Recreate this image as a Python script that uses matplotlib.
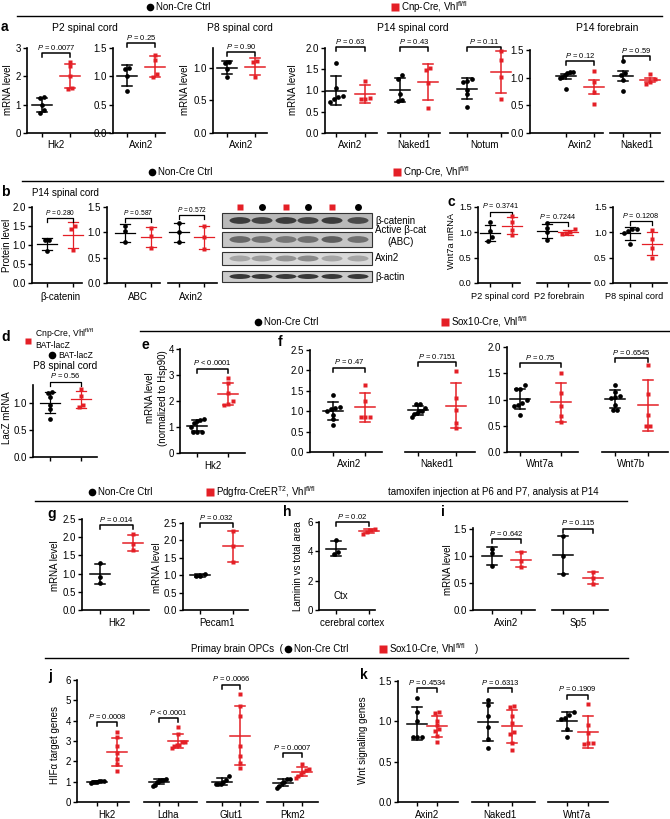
import numpy as np
import matplotlib
matplotlib.use('Agg')
import matplotlib.pyplot as plt
from matplotlib.patches import Rectangle, Ellipse

plt.rcParams['font.family'] = ['Liberation Sans', 'DejaVu Sans']
plt.rcParams['mathtext.fontset'] = 'custom'
plt.rcParams['mathtext.rm'] = 'Liberation Sans'
plt.rcParams['mathtext.it'] = 'Liberation Sans:italic'
plt.rcParams['font.size'] = 7

W, H = 670, 819
RED = '#e41f26'

# ---------------- data ----------------
# a: Non-Cre Ctrl vs Cnp-Cre, Vhl fl/fl
a_p2_genes = ['Hk2', 'Axin2']
a_p2_ctrl = [[1.28, 1.22, 1.0, 0.8, 0.72], [1.15, 1.13, 1.0, 0.75]]
a_p2_mut = [[2.5, 2.35, 2.0, 1.6, 1.55], [1.37, 1.28, 1.05, 0.98]]
a_p2_p = ['= 0.0077', '= 0.25']

a_p8_ctrl = [1.07, 1.09, 0.98, 0.86]
a_p8_mut = [1.1, 1.09, 0.86]
a_p8_p = '= 0.90'

a_p14sc_genes = ['Axin2', 'Naked1', 'Notum']
a_p14sc_ctrl = [[1.65, 1.05, 0.88, 0.85, 0.8, 0.72], [1.36, 1.27, 0.92, 0.77, 0.76],
                [1.27, 1.23, 1.21, 1.01, 0.91, 0.62]]
a_p14sc_mut = [[1.23, 0.82, 0.8, 0.8], [1.52, 1.48, 1.17, 0.6], [1.92, 1.72, 1.31, 0.8]]
a_p14sc_p = ['= 0.63', '= 0.43', '= 0.11']

a_p14fb_genes = ['Axin2', 'Naked1']
a_p14fb_ctrl = [[1.1, 1.1, 1.09, 1.05, 1.02, 0.99, 0.8], [1.3, 1.09, 1.05, 0.96, 0.76]]
a_p14fb_mut = [[1.12, 0.92, 0.74, 0.53], [1.06, 0.97, 0.93, 0.88]]
a_p14fb_p = ['= 0.12', '= 0.59']

# b: protein level, P14 spinal cord
b_genes = ['β-catenin', 'ABC', 'Axin2']
b_ctrl = [[1.12, 1.12, 0.84], [1.13, 1.03, 0.8], [1.19, 1.0, 0.81]]
b_mut = [[1.5, 1.42, 0.88], [1.08, 0.93, 0.69], [1.12, 0.9, 0.68]]
b_p = ['= 0.280', '= 0.587', '= 0.572']

# western blot lanes and band strength
blot_lanes = ['mut', 'ctrl', 'mut', 'ctrl', 'mut', 'ctrl']
blot_rows = ['β-catenin', 'Active β-cat\n(ABC)', 'Axin2', 'β-actin']
blot_bcat = [0.85, 0.8, 0.85, 0.8, 0.85, 0.75]
blot_abc = [0.6, 0.55, 0.5, 0.55, 0.65, 0.55]
blot_axin2 = [0.3, 0.35, 0.4, 0.45, 0.3, 0.3]
blot_actin = [0.9, 0.9, 0.9, 0.9, 0.9, 0.9]

# c: Wnt7a mRNA
c_groups = ['P2 spinal cord', 'P2 forebrain', 'P8 spinal cord']
c_ctrl = [[1.2, 1.02, 0.9, 0.83], [1.18, 1.08, 1.0, 0.85], [1.06, 1.06, 1.02, 0.99, 0.76]]
c_mut = [[1.33, 1.2, 1.05, 0.95], [1.07, 1.01, 0.98, 0.96], [1.04, 0.87, 0.7, 0.5]]
c_p = ['= 0.3741', '= 0.7244', '= 0.1208']

# d: LacZ mRNA, P8 spinal cord
d_ctrl = [1.2, 1.18, 1.1, 0.96, 0.88, 0.7]
d_mut = [1.25, 1.12, 0.96, 0.92]
d_p = '= 0.56'

# e: Hk2 (Sox10-Cre)
e_ctrl = [1.3, 1.28, 1.25, 1.15, 1.0, 0.82, 0.8, 0.8]
e_mut = [2.9, 2.68, 2.3, 2.0, 1.88, 1.85]
e_p = '< 0.0001'

# f: Wnt targets (Sox10-Cre)
f1_genes = ['Axin2', 'Naked1']
f1_ctrl = [[1.4, 1.1, 1.08, 1.05, 1.0, 0.9, 0.8, 0.65], [1.18, 1.18, 1.08, 1.0, 1.0, 0.95, 0.92, 0.85]]
f1_mut = [[1.65, 1.26, 0.86, 0.85, 0.87], [1.99, 1.32, 1.03, 0.72, 0.6]]
f1_p = ['= 0.47', '= 0.7151']
f2_genes = ['Wnt7a', 'Wnt7b']
f2_ctrl = [[1.27, 1.2, 1.2, 1.0, 0.93, 0.9, 0.88, 0.7], [1.28, 1.15, 1.06, 1.04, 1.02, 0.89, 0.8, 0.8]]
f2_mut = [[1.5, 1.12, 0.87, 0.68, 0.57], [1.65, 1.1, 0.7, 0.5, 0.5]]
f2_p = ['= 0.75', '= 0.6545']

# g, h, i: Pdgfra-CreER
g_genes = ['Hk2', 'Pecam1']
g_ctrl = [[1.28, 0.92, 0.75], [1.04, 0.98, 0.97]]
g_mut = [[2.08, 1.8, 1.64], [2.28, 1.83, 1.38]]
g_p = ['= 0.014', '= 0.032']

h_ctrl = [4.75, 3.95, 3.85]
h_mut = [5.5, 5.45, 5.34, 5.2]
h_p = '= 0.02'

i_genes = ['Axin2', 'Sp5']
i_ctrl = [[1.14, 1.06, 0.81], [1.38, 1.0, 0.67]]
i_mut = [[1.08, 0.91, 0.8], [0.7, 0.6, 0.48]]
i_p = ['= 0.642', '= 0.115']

# j, k: primary brain OPCs
j_genes = ['Hk2', 'Ldha', 'Glut1', 'Pkm2']
j_ctrl = [[1.05, 1.03, 1.02, 1.0, 0.98, 0.97, 0.95], [1.13, 1.1, 1.06, 1.02, 0.98, 0.86, 0.78],
          [1.29, 1.1, 0.97, 0.9, 0.88, 0.88], [1.15, 1.12, 1.0, 0.95, 0.8, 0.68]]
j_mut = [[3.44, 3.18, 2.74, 2.41, 2.13, 1.87, 1.51], [3.67, 3.36, 2.95, 2.93, 2.8, 2.78, 2.74, 2.66],
         [5.31, 4.7, 4.21, 2.74, 2.25, 1.92, 1.67], [1.89, 1.62, 1.56, 1.46, 1.39, 1.3, 1.2]]
j_p = ['= 0.0008', '< 0.0001', '= 0.0066', '= 0.0007']

k_genes = ['Axin2', 'Naked1', 'Wnt7a']
k_ctrl = [[1.29, 1.12, 1.0, 0.81, 0.8, 0.8], [1.27, 1.2, 1.07, 0.93, 0.78, 0.67],
          [1.12, 1.08, 1.04, 1.03, 0.91, 0.81]]
k_mut = [[1.12, 1.1, 1.0, 0.95, 0.9, 0.88, 0.82, 0.75], [1.19, 1.18, 1.07, 0.98, 0.87, 0.84, 0.73, 0.64],
         [1.22, 0.95, 0.86, 0.73, 0.73, 0.72]]
k_p = ['= 0.4534', '= 0.6313', '= 0.1909']

# ---------------- figure ----------------
fig = plt.figure(figsize=(W / 100, H / 100), dpi=100)
ov = fig.add_axes([0, 0, 1, 1])
ov.set_xlim(0, W)
ov.set_ylim(H, 0)
ov.axis('off')


def spread(v, tol, step, maxw):
    # put close values side by side, like a prism scatter
    order = np.argsort(v)
    off = np.zeros(len(v))
    groups = [[order[0]]]
    for i in order[1:]:
        if v[i] - v[groups[-1][-1]] < tol:
            groups[-1].append(i)
        else:
            groups.append([i])
    for g in groups:
        k = len(g)
        st = step if k < 2 else min(step, maxw / (k - 1))
        off[g] = (np.arange(k) - (k - 1) / 2) * st
    return off


def draw_group(ax, x, vals, color, marker, ms, ppu, d, sem, lw):
    v = np.asarray(vals, float)
    m = v.mean()
    s = v.std(ddof=1)
    if sem:
        s = s / np.sqrt(len(v))
    off = spread(v, 4.0 / ppu, 4.5 / d, 13.0 / d)
    ax.plot(x + off, v, ls='none', marker=marker, ms=ms, color=color, mec='none',
            clip_on=False, zorder=3)
    cap, half = 5.0 / d, 10.0 / d
    ax.plot([x, x], [m - s, m + s], color=color, lw=lw, clip_on=False, zorder=2)
    for yy in (m - s, m + s):
        ax.plot([x - cap, x + cap], [yy, yy], color=color, lw=lw, clip_on=False, zorder=2)
    ax.plot([x - half, x + half], [m, m], color=color, lw=lw, clip_on=False, zorder=2)


def pair(x0, x1, xb, xr, ytop, ybot, ymax, ctrl, mut, p, pb, gene=None, yticks=None,
         fmt='{:.1f}', sem=False, lw=1.1, pfs=5.5, glab=-5, gx=0.5, gfs=7, tfs=7):
    ax = fig.add_axes([x0 / W, 1 - ybot / H, (x1 - x0) / W, (ybot - ytop) / H])
    d = xr - xb
    ax.set_xlim(-(xb - x0) / d, 1 + (x1 - xr) / d)
    ax.set_ylim(0, ymax)
    ppu = (ybot - ytop) / ymax
    ax.patch.set_visible(False)
    for s in ('top', 'right'):
        ax.spines[s].set_visible(False)
    for s in ('bottom', 'left'):
        ax.spines[s].set_linewidth(1.2)
    ax.set_xticks([0, 1])
    ax.set_xticklabels([])
    ax.tick_params(length=3, width=1.0, pad=1.5, labelsize=tfs)
    if yticks is None:
        ax.spines['left'].set_visible(False)
        ax.tick_params(axis='y', left=False, labelleft=False)
    else:
        ax.set_yticks(yticks)
        ax.set_yticklabels([fmt.format(t) for t in yticks])
    draw_group(ax, 0, ctrl, 'black', 'o', 3.4, ppu, d, sem, lw)
    draw_group(ax, 1, mut, RED, 's', 3.1, ppu, d, sem, lw)
    drop = 4.0 / ppu
    ax.plot([0, 0, 1, 1], [pb - drop, pb, pb, pb - drop], color='black', lw=lw, clip_on=False)
    ax.annotate('$P$ ' + p, (0.5, pb), xytext=(0, 1), textcoords='offset points',
                ha='center', va='bottom', fontsize=pfs, annotation_clip=False)
    if gene:
        ax.annotate(gene, (gx, 0), xycoords=('data', 'axes fraction'), xytext=(0, glab),
                    textcoords='offset points', ha='center', va='top', fontsize=gfs)
    return ax


def legend_row(y, items, x0, x1):
    for kind, x, txt in items:
        if kind == 'ctrl':
            ov.plot(x, y, 'o', ms=5.5, color='black', mec='none')
            ov.text(x + 6, y, txt, va='center', ha='left', fontsize=7)
        elif kind == 'mut':
            ov.plot(x, y, 's', ms=5.5, color=RED, mec='none')
            ov.text(x + 6, y, txt, va='center', ha='left', fontsize=7)
        else:
            ov.text(x, y, txt, va='center', ha='left', fontsize=7)
    ov.plot([x0, x1], [y + 9, y + 9], color='black', lw=1.0)


def ylab(x, y, txt, fs=7):
    ov.text(x, y, txt, rotation=90, ha='center', va='center', fontsize=fs)


VHL = 'Vhl$^{\\mathrm{fl/fl}}$'

# ---- panel a ----
legend_row(7, [('ctrl', 150, 'Non-Cre Ctrl'), ('mut', 395, 'Cnp-Cre, ' + VHL)], 17, 662)
pair(27, 110, 42, 70, 48, 133, 3, a_p2_ctrl[0], a_p2_mut[0], a_p2_p[0], 2.82, a_p2_genes[0],
     yticks=[0, 1, 2, 3], fmt='{:.0f}')
pair(113, 165, 127, 155, 48, 133, 1.5, a_p2_ctrl[1], a_p2_mut[1], a_p2_p[1], 1.59, a_p2_genes[1],
     yticks=[0, 0.5, 1.0, 1.5])
pair(213, 267, 227, 255, 48, 133, 1.3, a_p8_ctrl, a_p8_mut, a_p8_p, 1.24, 'Axin2',
     yticks=[0, 0.5, 1.0])
a4_x = [(325, 377, 336, 365), (388, 440, 400, 428), (450, 508, 467, 501)]
for n, (x0, x1, xb, xr) in enumerate(a4_x):
    pair(x0, x1, xb, xr, 48, 133, 2.0, a_p14sc_ctrl[n], a_p14sc_mut[n], a_p14sc_p[n], 2.02,
         a_p14sc_genes[n], yticks=[0, 0.5, 1.0, 1.5, 2.0] if n == 0 else None)
a5_x = [(530, 603, 566, 594), (610, 660, 623, 650)]
a5_b = [1.3, 1.39]
for n, (x0, x1, xb, xr) in enumerate(a5_x):
    pair(x0, x1, xb, xr, 50, 133, 1.5, a_p14fb_ctrl[n], a_p14fb_mut[n], a_p14fb_p[n], a5_b[n],
         a_p14fb_genes[n], yticks=[0, 0.5, 1.0, 1.5] if n == 0 else None, sem=True)
for x, t in [(85, 'P2 spinal cord'), (240, 'P8 spinal cord'), (413, 'P14 spinal cord'),
             (607, 'P14 forebrain')]:
    ov.text(x, 28, t, ha='center', va='center', fontsize=7.5)
ylab(8, 90, 'mRNA level')
ylab(185, 90, 'mRNA level')
ylab(293, 90, 'mRNA level')

# ---- panel b ----
legend_row(172, [('ctrl', 152, 'Non-Cre Ctrl'), ('mut', 397, 'Cnp-Cre, ' + VHL)], 22, 663)
ov.text(32, 193, 'P14 spinal cord', ha='left', va='center', fontsize=7)
b_x = [(32, 82, 47, 73, 2.0), (107, 160, 125, 151, 1.5), (168, 217, 179, 204, 1.5)]
b_b = [1.71, 1.28, 1.34]
for n, (x0, x1, xb, xr, ym) in enumerate(b_x):
    yt = [0, 0.5, 1.0, 1.5, 2.0] if n == 0 else ([0, 0.5, 1.0, 1.5] if n == 1 else None)
    pair(x0, x1, xb, xr, 207, 283, ym, b_ctrl[n], b_mut[n], b_p[n], b_b[n], b_genes[n],
         yticks=yt, lw=0.9, pfs=4.8, glab=-6.5)
ylab(7, 245, 'Protein level')

# western blot
lane_x = [240, 262, 286, 308, 332, 358]
row_y = [(213, 228), (232, 247), (252, 265), (271, 282)]
row_bg = ['#b9b9b9', '#c6c6c6', '#d9d9d9', '#cbcbcb']
row_lab_y = [221, 236, 258, 277]
for k, lane in enumerate(blot_lanes):
    if lane == 'mut':
        ov.plot(lane_x[k], 207, 's', ms=4.5, color=RED, mec='none')
    else:
        ov.plot(lane_x[k], 207, 'o', ms=5, color='black', mec='none')
for r, band in enumerate([blot_bcat, blot_abc, blot_axin2, blot_actin]):
    y0, y1 = row_y[r]
    ov.add_patch(Rectangle((222, y0), 150, y1 - y0, facecolor=row_bg[r], edgecolor='#333333', lw=0.8))
    for k, inten in enumerate(band):
        ov.add_patch(Ellipse((lane_x[k], (y0 + y1) / 2), 21, (y1 - y0) * 0.45,
                             facecolor='black', alpha=inten * 0.8, edgecolor='none'))
    ov.text(375, row_lab_y[r], blot_rows[r], ha='left', va='center', fontsize=7,
            multialignment='center')

# ---- panel c ----
c_x = [(478, 520, 490, 512), (537, 590, 547, 568), (613, 667, 630, 652)]
c_b = [1.41, 1.2, 1.22]
c_gx = [0.45, 0.6, 0.2]
for n, (x0, x1, xb, xr) in enumerate(c_x):
    pair(x0, x1, xb, xr, 207, 283, 1.5, c_ctrl[n], c_mut[n], c_p[n], c_b[n], c_groups[n],
         yticks=None if n == 1 else [0, 0.5, 1.0, 1.5], lw=0.9, pfs=5.2, glab=-6.5,
         gx=c_gx[n], gfs=6.6, tfs=6.6)
ylab(452, 241, 'Wnt7a mRNA', fs=6.6)

# ---- panel d ----
pair(33, 97, 50, 81, 385, 457, 1.33, d_ctrl, d_mut, d_p, 1.39, None, yticks=[0, 0.5, 1.0], lw=0.9)
ov.plot(28, 341, 's', ms=5, color=RED, mec='none')
ov.text(35, 334, 'Cnp-Cre, ' + VHL, ha='left', va='center', fontsize=6.2)
ov.text(35, 345, 'BAT-lacZ', ha='left', va='center', fontsize=6.2)
ov.plot(52, 355, 'o', ms=5.5, color='black', mec='none')
ov.text(58, 355, 'BAT-lacZ', ha='left', va='center', fontsize=6.2)
ov.text(65, 366, 'P8 spinal cord', ha='center', va='center', fontsize=7.3)
ylab(7, 418, 'LacZ mRNA')

# ---- panel e / f ----
legend_row(322, [('ctrl', 258, 'Non-Cre Ctrl'), ('mut', 445, 'Sox10-Cre, ' + VHL)], 140, 670)
pair(180, 245, 197, 228, 349, 453, 4, e_ctrl, e_mut, e_p, 3.25, 'Hk2',
     yticks=[0, 1, 2, 3, 4], fmt='{:.0f}', glab=-6)
ylab(150, 398, 'mRNA level')
ylab(163, 398, '(normalized to Hsp90)')

f1_x = [(310, 382, 333, 365), (405, 475, 418, 456)]
f1_b = [2.07, 2.2]
for n, (x0, x1, xb, xr) in enumerate(f1_x):
    pair(x0, x1, xb, xr, 350, 452, 2.5, f1_ctrl[n], f1_mut[n], f1_p[n], f1_b[n], f1_genes[n],
         yticks=[0, 0.5, 1.0, 1.5, 2.0, 2.5] if n == 0 else None)
f2_x = [(507, 578, 520, 561), (602, 668, 615, 648)]
f2_b = [1.69, 1.79]
for n, (x0, x1, xb, xr) in enumerate(f2_x):
    pair(x0, x1, xb, xr, 347, 452, 2.0, f2_ctrl[n], f2_mut[n], f2_p[n], f2_b[n], f2_genes[n],
         yticks=[0, 0.5, 1.0, 1.5, 2.0] if n == 0 else None)

# ---- panel g / h / i ----
legend_row(492, [('ctrl', 92, 'Non-Cre Ctrl'),
                 ('mut', 210, 'Pdgfrα-CreER$^{\\mathrm{T2}}$, ' + VHL)], 35, 627)
ov.text(493, 492, 'tamoxifen injection at P6 and P7, analysis at P14', ha='center', va='center',
        fontsize=7)
g_x = [(82, 149, 100, 133, 519), (183, 248, 200, 233, 523)]
g_b = [2.33, 2.5]
for n, (x0, x1, xb, xr, yt) in enumerate(g_x):
    pair(x0, x1, xb, xr, yt, 610, 2.5, g_ctrl[n], g_mut[n], g_p[n], g_b[n], g_genes[n],
         yticks=[0, 0.5, 1.0, 1.5, 2.0, 2.5], glab=-6)
ylab(55, 566, 'mRNA level')
ylab(157, 568, 'mRNA level')

pair(319, 375, 336, 369, 522, 610, 6, h_ctrl, h_mut, h_p, 6.0, 'cerebral cortex',
     yticks=[0, 2, 4, 6], fmt='{:.0f}', glab=-6)
ov.text(341, 596, 'Ctx', ha='center', va='center', fontsize=7)
ylab(298, 566, 'Laminin vs total area')

i_x = [(473, 535, 492, 521), (552, 608, 563, 593)]
i_b = [1.31, 1.51]
for n, (x0, x1, xb, xr) in enumerate(i_x):
    pair(x0, x1, xb, xr, 528, 610, 1.52, i_ctrl[n], i_mut[n], i_p[n], i_b[n], i_genes[n],
         yticks=[0, 0.5, 1.0, 1.5] if n == 0 else None, glab=-6)
ylab(448, 570, 'mRNA level')

# ---- panel j / k ----
legend_row(649, [('txt', 191, 'Primay brain OPCs  ('), ('ctrl', 288, 'Non-Cre Ctrl'),
                 ('mut', 383, 'Sox10-Cre, ' + VHL), ('txt', 475, ')')], 45, 628)
j_x = [(77, 129, 97, 117), (144, 197, 159, 178), (207, 258, 222, 240), (267, 318, 283, 302)]
j_b = [3.92, 4.13, 5.77, 2.41]
for n, (x0, x1, xb, xr) in enumerate(j_x):
    pair(x0, x1, xb, xr, 680, 802, 6, j_ctrl[n], j_mut[n], j_p[n], j_b[n], j_genes[n],
         yticks=[0, 1, 2, 3, 4, 5, 6] if n == 0 else None, fmt='{:.0f}', glab=-6)
ylab(55, 745, 'HIFα target genes')

k_x = [(398, 458, 417, 437), (472, 535, 488, 512), (548, 608, 567, 588)]
k_b = [1.41, 1.41, 1.33]
for n, (x0, x1, xb, xr) in enumerate(k_x):
    pair(x0, x1, xb, xr, 681, 802, 1.5, k_ctrl[n], k_mut[n], k_p[n], k_b[n], k_genes[n],
         yticks=[0, 0.5, 1.0, 1.5] if n == 0 else None, glab=-6)
ylab(363, 740, 'Wnt signaling genes')

# panel letters
for t, x, y in [('a', 1, 27), ('b', 1, 192), ('c', 448, 202), ('d', 1, 337), ('e', 141, 345),
                ('f', 278, 342), ('g', 47, 514), ('h', 283, 512), ('i', 441, 512),
                ('j', 48, 676), ('k', 360, 675)]:
    ov.text(x, y, t, ha='left', va='center', fontsize=10, fontweight='bold')

fig.savefig('out.png', dpi=100)
